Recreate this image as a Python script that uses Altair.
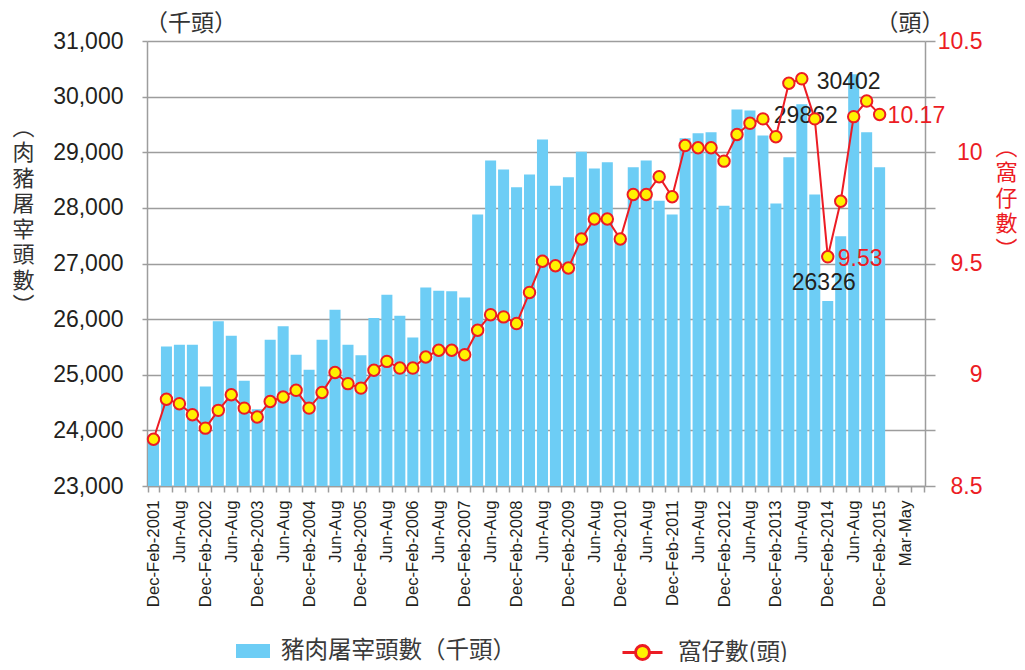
import json
import altair as alt
import pandas as pd

# ---------------- data ----------------
tick_labels = [
    "Dec-Feb-2001", "", "Jun-Aug", "",
    "Dec-Feb-2002", "", "Jun-Aug", "",
    "Dec-Feb-2003", "", "Jun-Aug", "",
    "Dec-Feb-2004", "", "Jun-Aug", "",
    "Dec-Feb-2005", "", "Jun-Aug", "",
    "Dec-Feb-2006", "", "Jun-Aug", "",
    "Dec-Feb-2007", "", "Jun-Aug", "",
    "Dec-Feb-2008", "", "Jun-Aug", "",
    "Dec-Feb-2009", "", "Jun-Aug", "",
    "Dec-Feb-2010", "", "Jun-Aug", "",
    "Dec-Feb-2011", "", "Jun-Aug", "",
    "Dec-Feb-2012", "", "Jun-Aug", "",
    "Dec-Feb-2013", "", "Jun-Aug", "",
    "Dec-Feb-2014", "", "Jun-Aug", "",
    "Dec-Feb-2015", "", "Mar-May", "",
]

# 肉豬屠宰頭數 (千頭), one value per quarter from Dec-Feb-2001 to Dec-Feb-2015
slaughter = [
    23850, 25510, 25540, 25540, 24790, 25960, 25700, 24890, 24380, 25630,
    25870, 25360, 25090, 25630, 26170, 25540, 25350, 26020, 26440, 26060,
    25670, 26570, 26510, 26500, 26390, 27880, 28850, 28690, 28370, 28600,
    29230, 28400, 28550, 29010, 28710, 28820, 27500, 28730, 28850, 28130,
    27880, 29250, 29340, 29360, 28040, 29770, 29750, 29300, 28080, 28910,
    29862, 28240, 26326, 27490, 30402, 29360, 28730,
]

# 窩仔數 (頭)
litter = [
    8.71, 8.89, 8.87, 8.82, 8.76, 8.84, 8.91, 8.85, 8.81, 8.88,
    8.90, 8.93, 8.85, 8.92, 9.01, 8.96, 8.94, 9.02, 9.06, 9.03,
    9.03, 9.08, 9.11, 9.11, 9.09, 9.20, 9.27, 9.26, 9.23, 9.37,
    9.51, 9.49, 9.48, 9.61, 9.70, 9.70, 9.61, 9.81, 9.81, 9.89,
    9.80, 10.03, 10.02, 10.02, 9.96, 10.08, 10.13, 10.15, 10.07, 10.31,
    10.33, 10.15, 9.53, 9.78, 10.16, 10.23, 10.17,
]

bar_series = "豬肉屠宰頭數（千頭）"
line_series = "窩仔數(頭)"

# annotated bars: (index, text, dx, dy)
bar_notes = [(54, "30402", -5, 8), (50, "29862", 4, 12), (52, "26326", -4, -18)]
# annotated points: (index, text, dx, dy)
line_notes = [(52, "9.53", 10, 2), (56, "10.17", 8, 2)]

left_ticks = [23000, 24000, 25000, 26000, 27000, 28000, 29000, 30000, 31000]
right_ticks = [8.5, 8.75, 9.0, 9.25, 9.5, 9.75, 10.0, 10.25, 10.5]

BLUE = "#6DCDF5"
RED = "#EC1C24"
YELLOW = "#FFF100"
GRID = "#9D9D9D"
TEXT = "#231F20"
NUM_FONT = "Liberation Sans"
CJK_FONT = "Noto Sans CJK TC"

n_cat = len(tick_labels)
bars_df = pd.DataFrame({"idx": list(range(len(slaughter))), "v": slaughter, "s": bar_series})
line_df = pd.DataFrame({"idx": list(range(len(litter))), "v": litter, "s": line_series})

x_axis = alt.Axis(
    title=None,
    labelExpr=json.dumps(tick_labels, ensure_ascii=False) + "[datum.value]",
    labelAngle=270,
    labelFont=NUM_FONT,
    labelFontSize=16.7,
    labelColor=TEXT,
    labelPadding=8,
    labelOverlap=False,
    tickBand="extent",
    tickSize=6,
    tickColor=GRID,
    tickWidth=1.5,
    domainColor=GRID,
    domainWidth=1.5,
    grid=False,
)
x_scale = alt.Scale(domain=list(range(n_cat)), paddingInner=0.15, paddingOuter=0.075)


def x_enc():
    return alt.X("idx:O", scale=x_scale, axis=x_axis)


y_left_scale = alt.Scale(domain=[23000, 31000], zero=False, nice=False)
y_right_scale = alt.Scale(domain=[8.5, 10.5], zero=False, nice=False)

left_axis = alt.Axis(
    values=left_ticks,
    format=",.0f",
    labelFont=NUM_FONT,
    labelFontSize=23,
    labelColor=TEXT,
    labelPadding=19,
    tickSize=5,
    tickColor=GRID,
    tickWidth=1.5,
    domainColor=GRID,
    domainWidth=1.5,
    grid=True,
    gridColor=GRID,
    gridWidth=1.5,
    title=["︵", "肉", "豬", "屠", "宰", "頭", "數", "︶"],
    titleFont=CJK_FONT,
    titleFontSize=22,
    titleFontWeight="normal",
    titleColor="#333333",
    titleAngle=0,
    titleAlign="center",
    titleBaseline="top",
    titleLineHeight=25.5,
    titleX=-124,
    titleY=76,
)

right_axis = alt.Axis(
    orient="right",
    values=right_ticks,
    labelExpr="datum.value % 0.5 == 0 ? format(datum.value, '.1~f') : ''",
    labelFont=NUM_FONT,
    labelFontSize=23,
    labelColor=RED,
    labelAlign="right",
    labelPadding=47,
    tickSize=10,
    tickColor=GRID,
    tickWidth=1.5,
    domainColor=GRID,
    domainWidth=1.5,
    grid=False,
    title=["︵", "窩", "仔", "數", "︶"],
    titleFont=CJK_FONT,
    titleFontSize=22,
    titleFontWeight="normal",
    titleColor=RED,
    titleAngle=0,
    titleAlign="center",
    titleBaseline="top",
    titleLineHeight=25.5,
    titleX=81,
    titleY=96,
)


def y_left():
    return alt.Y("v:Q", scale=y_left_scale, axis=left_axis)


def y_right():
    return alt.Y("v:Q", scale=y_right_scale, axis=right_axis)


# ---------------- left (bars) ----------------
bars = alt.Chart(bars_df).mark_bar(clip=True).encode(
    x=x_enc(),
    y=y_left(),
    fill=alt.Fill(
        "s:N",
        scale=alt.Scale(domain=[bar_series], range=[BLUE]),
        legend=alt.Legend(
            title=None,
            orient="none",
            legendX=89,
            legendY=593,
            padding=0,
            symbolType="M-1,-0.41H1V0.41H-1Z",
            symbolSize=1156,
            symbolStrokeWidth=0,
            symbolOpacity=1,
            labelFont=CJK_FONT,
            labelFontSize=23.5,
            labelColor="#3A3A3A",
            labelOffset=11,
            labelLimit=500,
        ),
    ),
)

bar_text_layers = []
for i, t, dx, dy in bar_notes:
    df = pd.DataFrame({"idx": [i], "v": [slaughter[i]], "t": [t]})
    bar_text_layers.append(
        alt.Chart(df).mark_text(
            font=NUM_FONT, fontSize=23, color=TEXT, align="center", baseline="middle", dx=dx, dy=dy
        ).encode(x=x_enc(), y=y_left(), text="t:N")
    )

unit_left = alt.Chart(pd.DataFrame({"t": ["（千頭）"]})).mark_text(
    font=CJK_FONT, fontSize=23, color="#333333", align="center", baseline="middle"
).encode(text="t:N", x=alt.value(44), y=alt.value(-17))

left = alt.layer(bars, *bar_text_layers, unit_left)

# ---------------- right (line + points) ----------------
line = alt.Chart(line_df).mark_line(color=RED, strokeWidth=2).encode(
    x=x_enc(),
    y=y_right(),
)

points = alt.Chart(line_df).mark_point(
    filled=True, fill=YELLOW, shape="circle", size=130, strokeWidth=2, opacity=1
).encode(
    x=x_enc(),
    y=y_right(),
    stroke=alt.Stroke(
        "s:N",
        scale=alt.Scale(domain=[line_series], range=[RED]),
        legend=alt.Legend(
            title=None,
            orient="none",
            legendX=474,
            legendY=590,
            padding=0,
            symbolType="M-1,0H-0.35M0.35,0H1M0.35,0A0.35,0.35,0,1,1,-0.35,0A0.35,0.35,0,1,1,0.35,0Z",
            symbolSize=1600,
            symbolStrokeWidth=3,
            symbolFillColor=YELLOW,
            symbolOpacity=1,
            labelFont=CJK_FONT,
            labelFontSize=23.5,
            labelColor="#3A3A3A",
            labelOffset=14,
            labelLimit=500,
        ),
    ),
)

line_text_layers = []
for i, t, dx, dy in line_notes:
    df = pd.DataFrame({"idx": [i], "v": [litter[i]], "t": [t]})
    line_text_layers.append(
        alt.Chart(df).mark_text(
            font=NUM_FONT, fontSize=23, color=RED, align="left", baseline="middle", dx=dx, dy=dy
        ).encode(x=x_enc(), y=y_right(), text="t:N")
    )

unit_right = alt.Chart(pd.DataFrame({"t": ["（頭）"]})).mark_text(
    font=CJK_FONT, fontSize=23, color="#333333", align="center", baseline="middle"
).encode(text="t:N", x=alt.value(763), y=alt.value(-17))

right = alt.layer(line, points, *line_text_layers, unit_right)

chart = (
    alt.layer(left, right)
    .resolve_scale(y="independent", fill="independent", stroke="independent")
    .properties(
        width=778,
        height=445,
        padding={"left": 139, "top": 33, "right": 92, "bottom": 176},
        autosize=alt.AutoSizeParams(type="none"),
        background="white",
    )
    .configure_view(stroke=None)
)

chart.save("out.html", embed_options={"renderer": "svg", "actions": False})
